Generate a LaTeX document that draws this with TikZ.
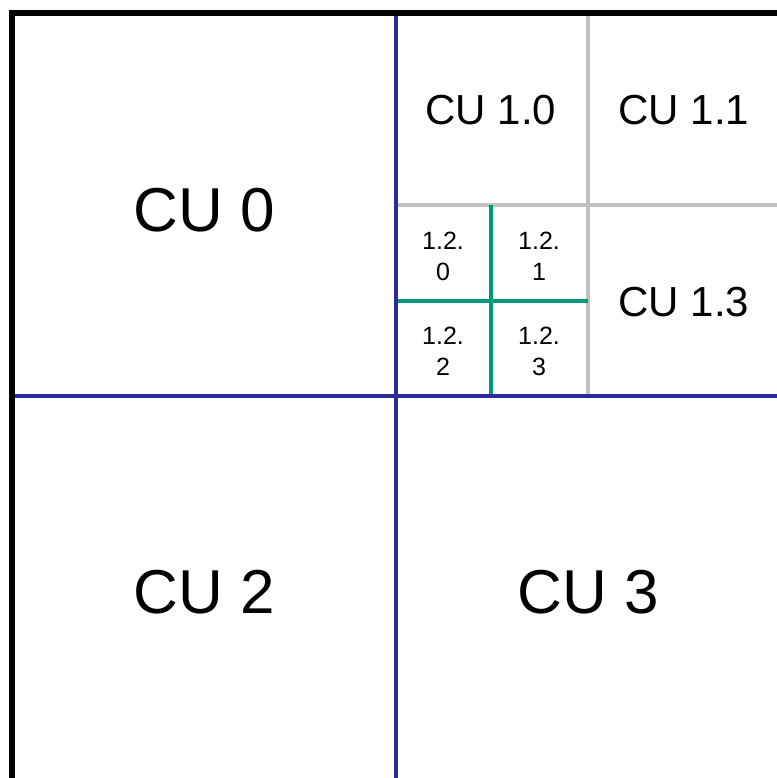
\documentclass[tikz,border=0pt]{standalone}
\usepackage{fontspec}
\setmainfont{Liberation Sans}
\definecolor{cublue}{HTML}{2A2A9A}
\definecolor{cugreen}{HTML}{00997A}
\definecolor{cugray}{HTML}{C0C0C0}
\begin{document}
\begin{tikzpicture}[x=1pt,y=-1pt,
  bigtxt/.style={font=\fontsize{62}{70}\selectfont},
  midtxt/.style={font=\fontsize{42}{48}\selectfont},
  smalltxt/.style={font=\fontsize{25}{31}\selectfont,align=center},
  blueline/.style={draw=cublue,line width=3.5pt},
  grayline/.style={draw=cugray,line width=3.5pt},
  greenline/.style={draw=cugreen,line width=3.5pt},
  border/.style={draw=black,line width=6pt}]
\useasboundingbox (0,0) rectangle (776,778);
% coordinates
\coordinate (tl) at (12,13);
\coordinate (mt) at (396,13);
\coordinate (mb) at (396,790);
\coordinate (ml) at (12,396);
\coordinate (mr) at (790,396);
\coordinate (gt) at (588,13);
\coordinate (gb) at (588,396);
\coordinate (gl) at (396,205);
\coordinate (gr) at (790,205);
\coordinate (et) at (491,205);
\coordinate (eb) at (491,396);
\coordinate (el) at (396,301);
\coordinate (er) at (588,301);
% inner lines
\draw[grayline] (gt) -- (gb);
\draw[grayline] (gl) -- (gr);
\draw[greenline] (et) -- (eb);
\draw[greenline] (el) -- (er);
\draw[blueline] (mt) -- (mb);
\draw[blueline] (ml) -- (mr);
% border
\draw[border] (12,790) -- (tl) -- (790,13);
% labels
\node[bigtxt] (cu0) at (204,210) {CU 0};
\node[bigtxt] (cu2) at (204,592) {CU 2};
\node[bigtxt] (cu3) at (588,592) {CU 3};
\node[midtxt] (cu10) at (491,110) {CU 1.0};
\node[midtxt] (cu11) at (684,110) {CU 1.1};
\node[midtxt] (cu13) at (684,302) {CU 1.3};
\node[smalltxt] (c120) at (443,256) {1.2.\\0};
\node[smalltxt] (c121) at (539,256) {1.2.\\1};
\node[smalltxt] (c122) at (443,351) {1.2.\\2};
\node[smalltxt] (c123) at (539,351) {1.2.\\3};
\end{tikzpicture}
\end{document}
